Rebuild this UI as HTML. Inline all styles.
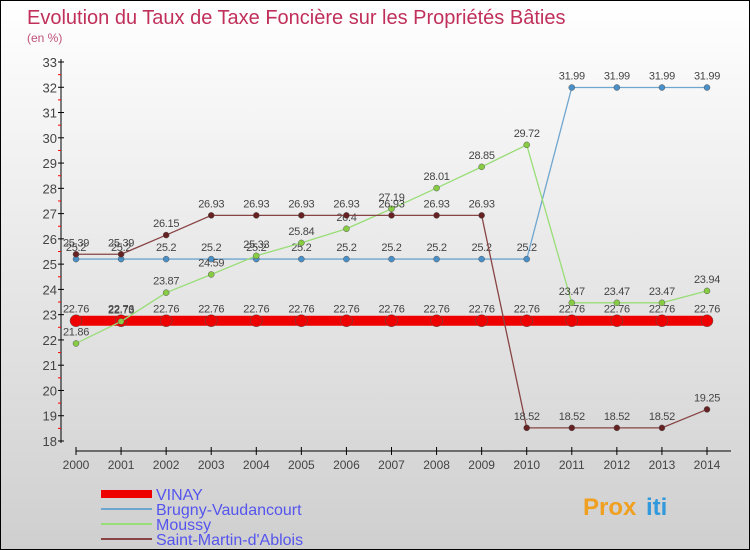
<!DOCTYPE html>
<html><head><meta charset="utf-8"><style>
body{margin:0;}
#c{width:750px;height:550px;position:relative;background:linear-gradient(#ffffff,#cfcfcf);border:1px solid #000;box-sizing:border-box;overflow:hidden;font-family:"Liberation Sans",sans-serif;}
</style></head><body>
<div id="c">
<svg id="s" width="750" height="550"></svg>
</div>
<script>
const years=[2000,2001,2002,2003,2004,2005,2006,2007,2008,2009,2010,2011,2012,2013,2014];
const vinay=[22.76,22.76,22.76,22.76,22.76,22.76,22.76,22.76,22.76,22.76,22.76,22.76,22.76,22.76,22.76];
const brugny=[25.2,25.2,25.2,25.2,25.2,25.2,25.2,25.2,25.2,25.2,25.2,31.99,31.99,31.99,31.99];
const moussy=[21.86,22.73,23.87,24.59,25.33,25.84,26.4,27.19,28.01,28.85,29.72,23.47,23.47,23.47,23.94];
const stmartin=[25.39,25.39,26.15,26.93,26.93,26.93,26.93,26.93,26.93,26.93,18.52,18.52,18.52,18.52,19.25];
const yTicks=[18,19,20,21,22,23,24,25,26,27,28,29,30,31,32,33];
const NS="http://www.w3.org/2000/svg";
const s=document.getElementById('s');
function X(i){return 75+i*(706-75)/14;}
function Y(v){return 440-(v-18)*(440-61)/15;}
function el(t,a,txt){const e=document.createElementNS(NS,t);for(const k in a)e.setAttribute(k,a[k]);if(txt!==undefined)e.textContent=txt;s.appendChild(e);return e;}
let t=el('text',{x:26,y:23,fill:'#c0305a','font-size':20},'Evolution du Taux de Taxe Foncière sur les Propriétés Bâties');

t=el('text',{x:26,y:41,fill:'#c0507a','font-size':12},'(en %)');

el('line',{x1:60,y1:58,x2:60,y2:442,stroke:'#000'});
el('line',{x1:75,y1:450,x2:730,y2:450,stroke:'#000'});
yTicks.forEach(v=>{el('line',{x1:57,y1:Y(v),x2:63,y2:Y(v),stroke:'#000'});
 if(v<33)el('line',{x1:57,y1:Y(v+0.5),x2:60,y2:Y(v+0.5),stroke:'#f00'});
 const l=el('text',{x:56,y:Y(v)+5,'text-anchor':'end','font-size':13,fill:'#444'},v);
 });
years.forEach((y,i)=>{el('line',{x1:X(i),y1:446,x2:X(i),y2:454,stroke:'#000'});
 const l=el('text',{x:X(i),y:468,'text-anchor':'middle','font-size':12,fill:'#444'},y);
 });
function series(d,col,w,r,name,dot){
 const p=el('polyline',{points:d.map((v,i)=>X(i)+','+Y(v)).join(' '),fill:'none',stroke:col,'stroke-width':w});
 
 d.forEach((v,i)=>{const c=el('circle',{cx:X(i),cy:Y(v),r:r,fill:dot,stroke:'#555','stroke-width':0.5});
  
  const l=el('text',{x:X(i),y:Y(v)-8,'text-anchor':'middle','font-size':11,fill:'#444','letter-spacing':'-0.3'},v);
  });
}
series(vinay,'#ee0000',10,6,'vinay','#ee0000');
series(brugny,'#6ea6d0',1.3,3,'brugny','#4a90c8');
series(moussy,'#99dd77',1.3,3,'moussy','#88cc44');
series(stmartin,'#884444',1.3,3,'stmartin','#662222');
const leg=[['VINAY','#ee0000',8],['Brugny-Vaudancourt','#6ea6d0',2],['Moussy','#99dd77',2],['Saint-Martin-d\'Ablois','#884444',2]];
leg.forEach((L,i)=>{const y=493+i*15;
 const ln=el('line',{x1:100,y1:y,x2:151,y2:y,stroke:L[1],'stroke-width':L[2]});
 
 const tx=el('text',{x:155,y:y+6,'font-size':16,fill:'#5555ee'},L[0]);
 });
t=el('text',{x:582,y:514,'font-size':24,'font-weight':'bold',fill:'#f0a020'},'Prox');

el('text',{x:645,y:514,'font-size':24,'font-weight':'bold',fill:'#3399dd'},'iti');
</script>
</body></html>
